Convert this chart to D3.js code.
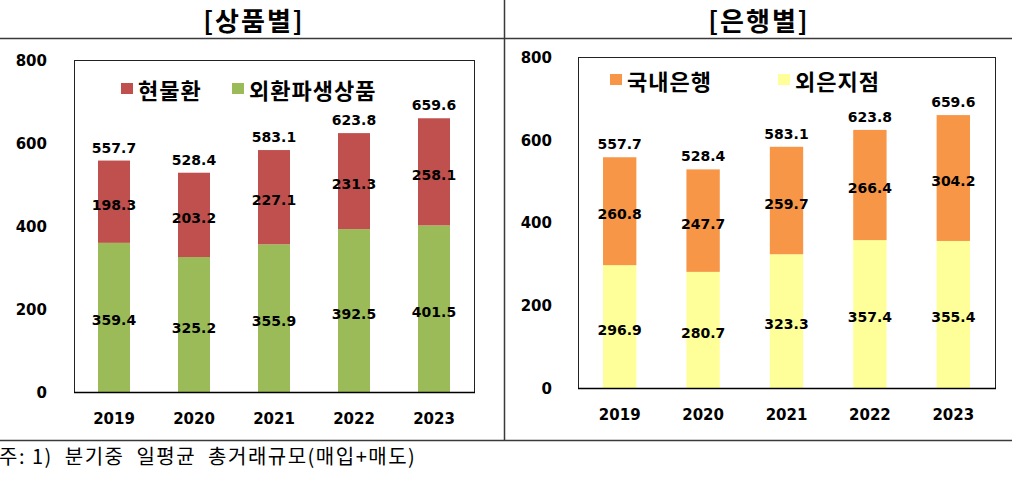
<!DOCTYPE html>
<html>
<head>
<meta charset="utf-8">
<script src="https://cdn.jsdelivr.net/npm/d3@7"></script>
<style>
  html, body { margin: 0; padding: 0; background: #fff; }
  svg { display: block; }
  .kr { font-family: "Noto Sans CJK KR", "Noto Sans", sans-serif; }
  .num { font-family: "DejaVu Sans", Verdana, sans-serif; font-weight: bold; }
</style>
</head>
<body>
<svg id="chart" width="1021" height="478"></svg>
<script>
// chart values
const years = ["2019", "2020", "2021", "2022", "2023"];
const yTicks = [0, 200, 400, 600, 800];

// 상품별
const spotValues = [198.3, 203.2, 227.1, 231.3, 258.1];
const derivValues = [359.4, 325.2, 355.9, 392.5, 401.5];
const productTotals = [557.7, 528.4, 583.1, 623.8, 659.6];

// 은행별
const domesticValues = [260.8, 247.7, 259.7, 266.4, 304.2];
const foreignValues = [296.9, 280.7, 323.3, 357.4, 355.4];
const bankTotals = [557.7, 528.4, 583.1, 623.8, 659.6];

const svg = d3.select("#chart");

// frame lines
const lineColor = "#3a3a3a";
svg.append("line").attr("x1", 0).attr("x2", 1012).attr("y1", 38.5).attr("y2", 38.5)
	.attr("stroke", lineColor).attr("stroke-width", 1.5);
svg.append("line").attr("x1", 0).attr("x2", 1012).attr("y1", 440.5).attr("y2", 440.5)
	.attr("stroke", lineColor).attr("stroke-width", 1.5);
svg.append("line").attr("x1", 504.5).attr("x2", 504.5).attr("y1", 0).attr("y2", 440)
	.attr("stroke", lineColor).attr("stroke-width", 1.5);

function drawPanel(p) {
	const g = svg.append("g");

	g.append("text").attr("class", "kr")
		.attr("x", p.titleX + 1).attr("y", 31)
		.attr("text-anchor", "middle")
		.attr("font-size", 26).attr("font-weight", "bold")
		.attr("letter-spacing", 2)
		.text(p.title);

	const x = d3.scaleBand().domain(years)
		.range([p.left, p.right])
		.paddingInner(0.6).paddingOuter(0.3);
	const y = d3.scaleLinear().domain([0, 800]).range([p.bottom, p.top]);

	// plot box
	g.append("rect")
		.attr("x", p.left + 0.5).attr("y", p.top + 0.5)
		.attr("width", p.right - p.left).attr("height", p.bottom - p.top)
		.attr("fill", "none").attr("stroke", "#222").attr("stroke-width", 1);

	const rows = years.map((yr, i) => ({ year: yr, a: p.lower[i], b: p.upper[i] }));
	const stack = d3.stack().keys(["a", "b"])(rows);
	const colors = { a: p.lowerColor, b: p.upperColor };

	stack.forEach(layer => {
		g.append("g").selectAll("rect").data(layer).join("rect")
			.attr("x", d => x(d.data.year))
			.attr("width", x.bandwidth())
			.attr("y", d => y(d[1]))
			.attr("height", d => y(d[0]) - y(d[1]))
			.attr("fill", colors[layer.key]);
	});

	// axis line on the bottom
	g.append("line").attr("x1", p.left).attr("x2", p.right + 1)
		.attr("y1", p.bottom + 0.5).attr("y2", p.bottom + 0.5)
		.attr("stroke", "#000").attr("stroke-width", 1.5);

	// segment labels
	stack.forEach(layer => {
		g.append("g").selectAll("text").data(layer).join("text")
			.attr("class", "num")
			.attr("x", d => x(d.data.year) + x.bandwidth() / 2)
			.attr("y", d => y((d[0] + d[1]) / 2) + 3)
			.attr("text-anchor", "middle").attr("dominant-baseline", "central")
			.attr("font-size", 14)
			.text(d => (d[1] - d[0]).toFixed(1));
	});

	// totals
	g.append("g").selectAll("text").data(p.totals).join("text")
		.attr("class", "num")
		.attr("x", (d, i) => x(years[i]) + x.bandwidth() / 2)
		.attr("y", d => y(d) - 13)
		.attr("text-anchor", "middle").attr("dominant-baseline", "central")
		.attr("font-size", 14)
		.text(d => d.toFixed(1));

	// y ticks
	const yAxis = d3.axisLeft(y).tickValues(yTicks).tickSize(0).tickPadding(0);
	const ya = g.append("g").attr("transform", `translate(${p.tickX},0)`).call(yAxis);
	ya.select(".domain").remove();
	ya.selectAll("text").attr("class", "num").attr("font-size", 15).attr("fill", "#000")
		.attr("dy", "0.35em");

	// x labels
	const xAxis = d3.axisBottom(x).tickSize(0).tickPadding(0);
	const xa = g.append("g").attr("transform", `translate(0,${p.xLabelY})`).call(xAxis);
	xa.select(".domain").remove();
	xa.selectAll("text").attr("class", "num").attr("font-size", 15).attr("fill", "#000")
		.attr("dy", "0.35em");

	// legend
	const lg = g.append("g");
	p.legend.forEach(item => {
		lg.append("rect").attr("x", item.x).attr("y", p.legendY - 6)
			.attr("width", 12).attr("height", 11).attr("fill", item.color);
		lg.append("text").attr("class", "kr")
			.attr("x", item.x + 17).attr("y", p.legendY)
			.attr("dominant-baseline", "central")
			.attr("font-size", 22).attr("font-weight", "bold")
			.attr("letter-spacing", 1)
			.text(item.label);
	});
}

drawPanel({
	title: "[상품별]", titleX: 253,
	left: 74, right: 474, top: 60, bottom: 392,
	tickX: 47, xLabelY: 419,
	lower: derivValues, upper: spotValues, totals: productTotals,
	lowerColor: "#9BBB59", upperColor: "#C0504D",
	legendY: 89,
	legend: [
		{ x: 121, color: "#C0504D", label: "현물환" },
		{ x: 232, color: "#9BBB59", label: "외환파생상품" }
	]
});

drawPanel({
	title: "[은행별]", titleX: 758,
	left: 578, right: 995, top: 57, bottom: 388,
	tickX: 552, xLabelY: 415,
	lower: foreignValues, upper: domesticValues, totals: bankTotals,
	lowerColor: "#FFFF99", upperColor: "#F79646",
	legendY: 80,
	legend: [
		{ x: 610, color: "#F79646", label: "국내은행" },
		{ x: 778, color: "#FFFF99", label: "외은지점" }
	]
});

// footnote
svg.append("text").attr("class", "kr")
	.attr("x", -1).attr("y", 455)
	.attr("dominant-baseline", "central")
	.attr("font-size", 20)
	.attr("letter-spacing", 1.5)
	.attr("xml:space", "preserve").style("white-space", "pre")
	.text("주: 1)  분기중  일평균  총거래규모(매입+매도)");
</script>
</body>
</html>
